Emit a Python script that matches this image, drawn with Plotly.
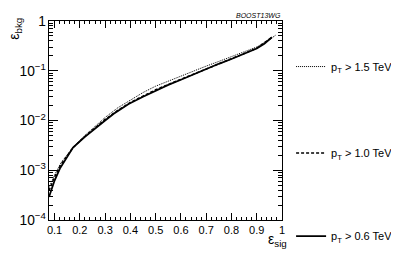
import plotly.graph_objects as go

# signal efficiency / background efficiency points
x_06 = [0.078, 0.10, 0.121, 0.15, 0.173, 0.22, 0.264, 0.30, 0.334, 0.393, 0.45,
        0.50, 0.55, 0.60, 0.65, 0.70, 0.75, 0.80, 0.85, 0.90, 0.93, 0.96]
y_06 = [2.9e-4, 6.2e-4, 1.08e-3, 1.9e-3, 2.85e-3, 4.7e-3, 7.3e-3, 1.0e-2, 1.37e-2,
        2.14e-2, 3.0e-2, 4.0e-2, 5.2e-2, 6.6e-2, 8.5e-2, 0.11, 0.138, 0.172,
        0.218, 0.28, 0.35, 0.47]

x_10 = [0.078, 0.10, 0.125, 0.15, 0.173, 0.22, 0.264, 0.30, 0.35, 0.40, 0.45, 0.50,
        0.55, 0.60, 0.65, 0.70, 0.75, 0.80, 0.85, 0.90, 0.93, 0.96]
y_10 = [3.9e-4, 7.3e-4, 1.3e-3, 2.0e-3, 2.85e-3, 4.8e-3, 7.5e-3, 1.05e-2, 1.6e-2,
        2.3e-2, 3.1e-2, 4.15e-2, 5.3e-2, 6.7e-2, 8.6e-2, 0.111, 0.14, 0.175,
        0.222, 0.285, 0.36, 0.47]

x_15 = [0.078, 0.10, 0.125, 0.15, 0.173, 0.22, 0.264, 0.30, 0.35, 0.40, 0.45, 0.50,
        0.55, 0.60, 0.65, 0.70, 0.75, 0.80, 0.85, 0.90, 0.95, 0.975]
y_15 = [4.5e-4, 8.0e-4, 1.4e-3, 2.1e-3, 2.9e-3, 5.0e-3, 8.0e-3, 1.15e-2, 1.8e-2,
        2.6e-2, 3.65e-2, 4.9e-2, 6.2e-2, 7.9e-2, 0.099, 0.124, 0.154, 0.19,
        0.235, 0.30, 0.42, 0.52]

labels = ["p<sub>T</sub> > 1.5 TeV", "p<sub>T</sub> > 1.0 TeV", "p<sub>T</sub> > 0.6 TeV"]

FONT = "Liberation Sans, Arial, Helvetica, sans-serif"

fig = go.Figure()
series = [
    (x_15, y_15, labels[0], dict(color="black", width=1, dash="1px,1px"), "legend"),
    (x_10, y_10, labels[1], dict(color="black", width=1.5, dash="3px,2px"), "legend2"),
    (x_06, y_06, labels[2], dict(color="black", width=1.8), "legend3"),
]
for xs, ys, name, line, leg in series:
    fig.add_trace(go.Scatter(x=xs, y=ys, mode="lines", name=name, line=line,
                             legend=leg))

axis_common = dict(
    showline=True, linecolor="black", linewidth=1, mirror="ticks",
    ticks="inside", tickcolor="black", showgrid=False, zeroline=False,
    tickfont=dict(size=11, color="black", family=FONT),
    ticklabeloverflow="allow",
)

fig.update_xaxes(
    range=[0.078, 1.0], ticklen=7,
    tickvals=[0.1, 0.2, 0.3, 0.4, 0.5, 0.6, 0.7, 0.8, 0.9, 1.0],
    ticktext=["0.1", "0.2", "0.3", "0.4", "0.5", "0.6", "0.7", "0.8", "0.9", "1"],
    minor=dict(ticks="inside", ticklen=3, dtick=0.02, tick0=0, tickcolor="black"),
    **axis_common,
)
fig.update_yaxes(
    type="log", range=[-4, 0], dtick=1, ticklen=9, exponentformat="power",
    minor=dict(ticks="inside", ticklen=4, dtick="D1", tickcolor="black"),
    **axis_common,
)

fig.add_annotation(text="ε<sub>bkg</sub>", xref="paper", yref="paper", x=-0.147, y=1.025,
                   xanchor="center", yanchor="top", textangle=-90, showarrow=False,
                   font=dict(size=14, family=FONT, color="black"))
fig.add_annotation(text="ε<sub>sig</sub>", xref="paper", yref="paper", x=1.028, y=-0.045,
                   xanchor="right", yanchor="top", showarrow=False,
                   font=dict(size=14, family=FONT, color="black"))
fig.add_annotation(text="<i>BOOST13WG</i>", xref="paper", yref="paper", x=1.0, y=1.048,
                   xanchor="right", yanchor="top", showarrow=False, borderpad=0,
                   font=dict(size=7, family=FONT, color="black"))

# the page body adds an 8px margin, so the figure is 8px smaller than the window
leg_common = dict(x=0.724, xref="container", yref="container", xanchor="left",
                  yanchor="middle", itemwidth=30,
                  font=dict(size=11, family=FONT, color="black"),
                  bgcolor="rgba(0,0,0,0)")
fig.update_layout(
    width=391, height=246,
    margin=dict(l=41, r=112, t=6, b=34),
    plot_bgcolor="white", paper_bgcolor="white",
    font=dict(family=FONT, color="black"),
    showlegend=True,
    legend=dict(y=0.762, **leg_common),
    legend2=dict(y=0.411, **leg_common),
    legend3=dict(y=0.073, **leg_common),
)

fig.write_html("out.html")
